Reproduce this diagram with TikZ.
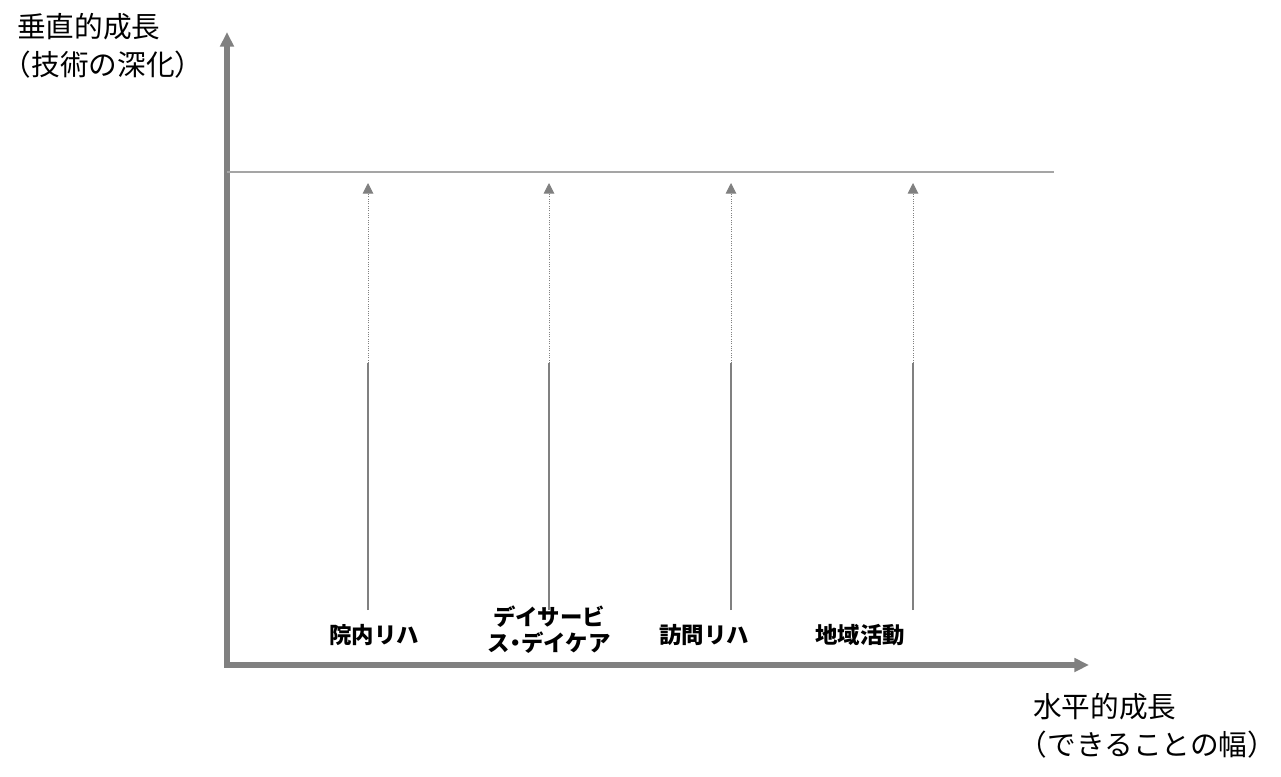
\documentclass[tikz,border=0pt]{standalone}
\usepackage{fontspec}
\setmainfont{Noto Sans CJK JP}
\usetikzlibrary{arrows.meta}
\definecolor{axisgray}{RGB}{128,128,128}
\definecolor{linegray}{RGB}{165,165,165}
\newcommand{\hp}[1]{{\addfontfeature{RawFeature=+halt}#1}}
\tikzset{
  axis/.style={draw=axisgray, line width=3.8pt, -{Triangle[length=11pt,width=10pt]}},
  growarrow/.style={draw=axisgray, line width=0.75pt, densely dotted, -{Triangle[length=8pt,width=8pt]}},
  growsolid/.style={draw=axisgray, line width=0.9pt},
  lab/.style={font=\fontsize{16.8}{19.5}\selectfont\bfseries, align=center, inner sep=0pt},
  axlab/.style={font=\fontsize{21.5}{28.5}\selectfont, align=left, inner sep=0pt, anchor=north west}
}
\begin{document}
\begin{tikzpicture}[x=0.75pt,y=-0.75pt]
\useasboundingbox (0,0) rectangle (1281,776);
% axes
\coordinate (O) at (227,665);
\coordinate (ytop) at (227,32);
\coordinate (xend) at (1089,665);
\draw[axis, line cap=rect] (O) -- (ytop);
\draw[axis] (224,665) -- (xend);
% top level line
\coordinate (l1) at (227,172);
\coordinate (l2) at (1054,172);
\draw[draw=linegray, line width=1.1pt] (l1) -- (l2);
% vertical arrows
\foreach \i/\x in {a/368,b/549,c/731,d/913}{
  \coordinate (\i0) at (\x,610);
  \coordinate (\i1) at (\x,363);
  \coordinate (\i2) at (\x,183);
  \draw[growsolid] (\i0) -- (\i1);
  \draw[growarrow] (\i1) -- (\i2);
}
% labels
\node[lab] (la) at (374,635) {院内リハ};
\node[lab] (lb) at (549,630) {デイサービ\\ス\hp{・}デイケア};
\node[lab] (lc) at (704,635) {訪問リハ};
\node[lab] (ld) at (860,635) {地域活動};
\node[axlab] (ylab) at (17,13) {垂直的成長\\\hp{（}技術の深化\hp{）}};
\node[axlab] (xlab) at (1033,693) {水平的成長\\\hp{（}できることの幅\hp{）}};
\end{tikzpicture}
\end{document}
